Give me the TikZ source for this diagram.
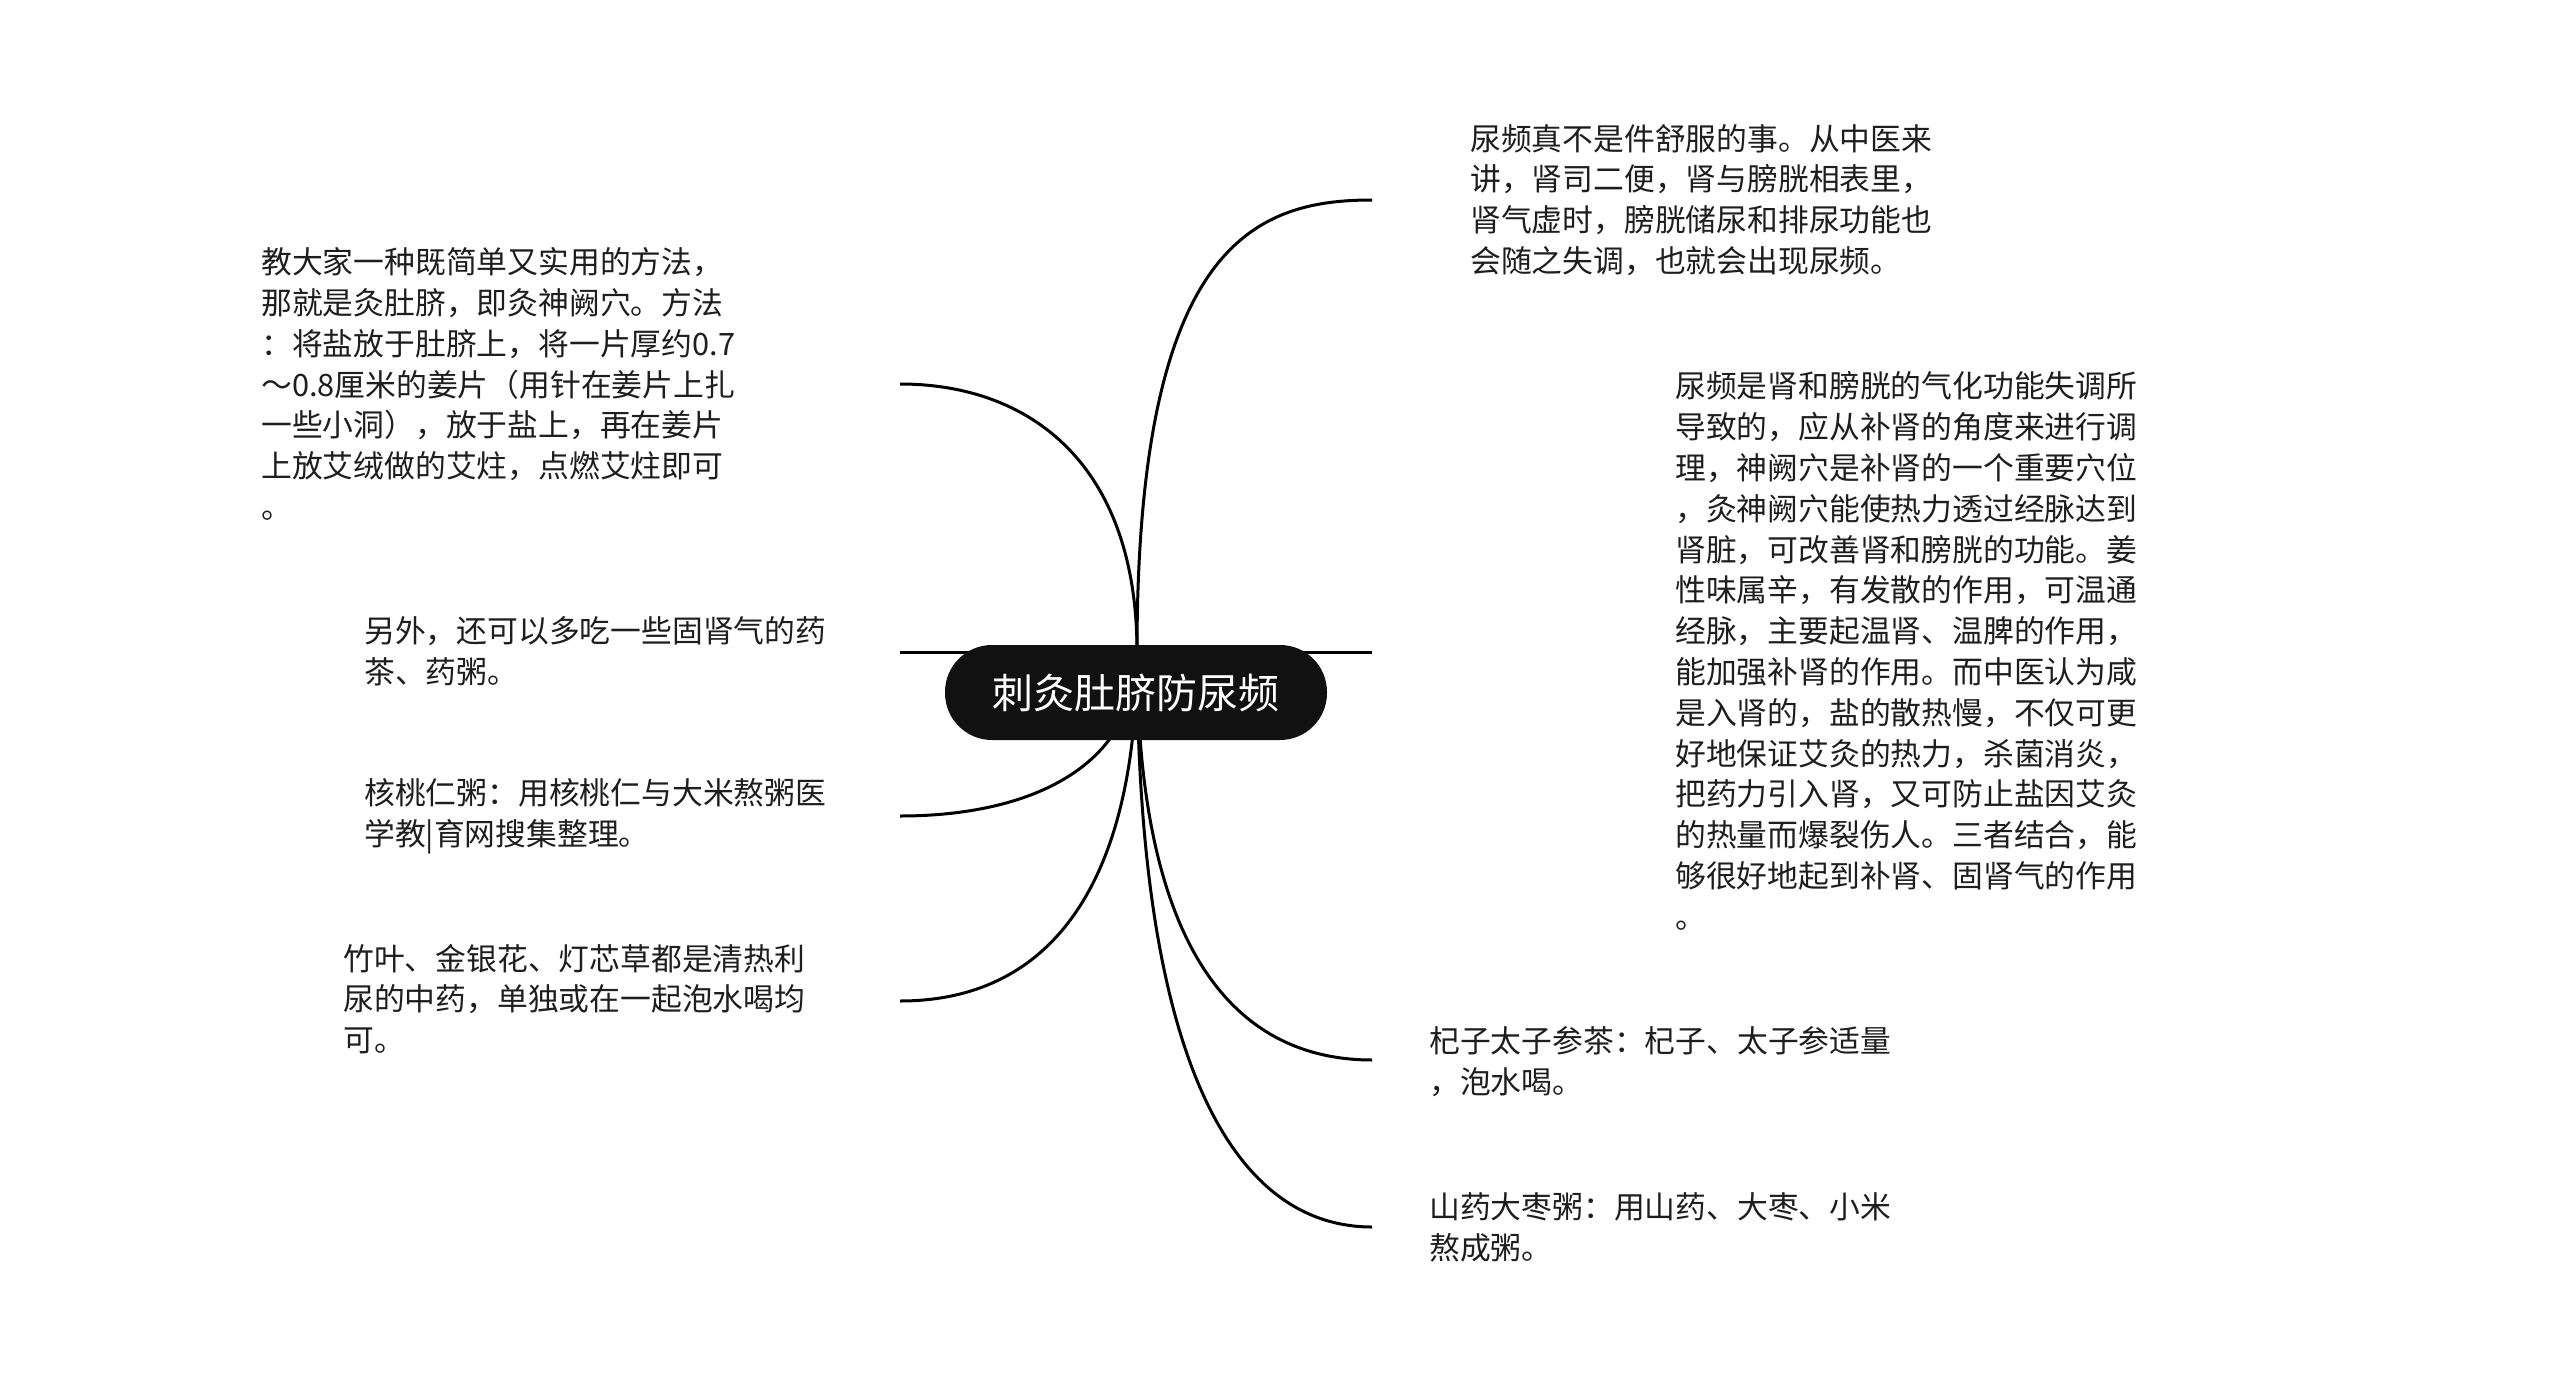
\documentclass[tikz,border=0pt]{standalone}
\usepackage{fontspec}
\newfontfamily\cjk{Noto Sans CJK SC}
\definecolor{txt}{RGB}{30,30,30}
\definecolor{rootfill}{RGB}{17,17,17}
\pgfdeclarelayer{bg}
\pgfsetlayers{bg,main}
\begin{document}
\begin{tikzpicture}[x=1pt,y=-1pt,
  leaf/.style={anchor=west, align=left, inner sep=0pt, text=txt, font=\cjk\fontsize{30.8}{40.8}\selectfont},
  link/.style={line width=3pt, draw=black},
  root/.style={fill=rootfill, text=white, rounded corners=47pt, minimum width=382pt, minimum height=95pt, inner sep=0pt, font=\cjk\fontsize{41}{49}\selectfont}]
\useasboundingbox (0,0) rectangle (2560,1386);
\node[root] (c) at (1136,692.5) {刺灸肚脐防尿频};
\coordinate (hub) at (1137,652);
\coordinate (e1) at (900,384);
\coordinate (e2) at (900,652);
\coordinate (e3) at (900,816);
\coordinate (e4) at (900,1001);
\coordinate (e5) at (1372,200);
\coordinate (e6) at (1372,652);
\coordinate (e7) at (1372,1060);
\coordinate (e8) at (1372,1227);
\node[leaf] (t1) at (261,384) {教大家一种既简单又实用的方法，\\那就是灸肚脐，即灸神阙穴。方法\\：将盐放于肚脐上，将一片厚约0.7\\～0.8厘米的姜片（用针在姜片上扎\\一些小洞），放于盐上，再在姜片\\上放艾绒做的艾炷，点燃艾炷即可\\。};
\node[leaf] (t2) at (364,651) {另外，还可以多吃一些固肾气的药\\茶、药粥。};
\node[leaf] (t3) at (364,816) {核桃仁粥：用核桃仁与大米熬粥医\\学教|育网搜集整理。};
\node[leaf] (t4) at (343,999) {竹叶、金银花、灯芯草都是清热利\\尿的中药，单独或在一起泡水喝均\\可。};
\node[leaf] (t5) at (1470,200) {尿频真不是件舒服的事。从中医来\\讲，肾司二便，肾与膀胱相表里，\\肾气虚时，膀胱储尿和排尿功能也\\会随之失调，也就会出现尿频。};
\node[leaf] (t6) at (1675,651) {尿频是肾和膀胱的气化功能失调所\\导致的，应从补肾的角度来进行调\\理，神阙穴是补肾的一个重要穴位\\，灸神阙穴能使热力透过经脉达到\\肾脏，可改善肾和膀胱的功能。姜\\性味属辛，有发散的作用，可温通\\经脉，主要起温肾、温脾的作用，\\能加强补肾的作用。而中医认为咸\\是入肾的，盐的散热慢，不仅可更\\好地保证艾灸的热力，杀菌消炎，\\把药力引入肾，又可防止盐因艾灸\\的热量而爆裂伤人。三者结合，能\\够很好地起到补肾、固肾气的作用\\。};
\node[leaf] (t7) at (1429,1062) {杞子太子参茶：杞子、太子参适量\\，泡水喝。};
\node[leaf] (t8) at (1429,1227) {山药大枣粥：用山药、大枣、小米\\熬成粥。};
\begin{pgfonlayer}{bg}
\fill[white] (0,0) rectangle (2560,1386);
\draw[link] (hub) .. controls +(0,-188) and +(130,0) .. (e1);
\draw[link] (hub) -- (e2);
\draw[link] (hub) .. controls +(0,115) and +(130,0) .. (e3);
\draw[link] (hub) .. controls +(0,227) and +(154,0) .. (e4);
\draw[link] (hub) .. controls +(0,-407) and +(-118,0) .. (e5);
\draw[link] (hub) -- (e6);
\draw[link] (hub) .. controls +(0,326) and +(-118,0) .. (e7);
\draw[link] (hub) .. controls +(0,431) and +(-129,0) .. (e8);
\end{pgfonlayer}
\end{tikzpicture}
\end{document}
